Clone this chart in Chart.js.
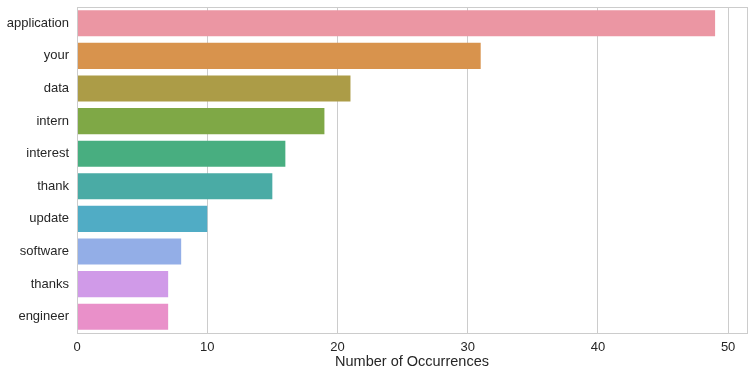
<!DOCTYPE html>
<html>
<head>
<meta charset="utf-8">
<script src="https://cdn.jsdelivr.net/npm/chart.js@4/dist/chart.umd.min.js"></script>
<style>
  html, body { margin: 0; padding: 0; background: #fff; }
  #wrap { width: 753px; height: 377px; position: relative; }
</style>
</head>
<body>
<div id="wrap"><canvas id="chart"></canvas></div>
<script>
"use strict";

// ── Data ─────────────────────────────────────────────
const words  = ["application", "your", "data", "intern", "interest", "thank", "update", "software", "thanks", "engineer"];
const counts = [49, 31, 21, 19, 16, 15, 10, 8, 7, 7];
const colors = ["#eb96a3", "#d8934d", "#ac9c47", "#7fa846", "#48ae80", "#4aaba5", "#50acc5", "#93aee7", "#d09ae8", "#e990c9"];
const xTicks = [0, 10, 20, 30, 40, 50];

const FONT = "'Liberation Sans', Arial, sans-serif";

// frame round the plot area (seaborn whitegrid spines)
const frame = {
  id: "frame",
  afterDraw(chart) {
    const { ctx, chartArea: a } = chart;
    ctx.save();
    ctx.strokeStyle = "#cccccc";
    ctx.lineWidth = 1;
    ctx.strokeRect(a.left + 0.5, a.top + 0.5, a.right - a.left, a.bottom - a.top);
    ctx.restore();
  },
};

new Chart(document.getElementById("chart"), {
  type: "bar",
  data: {
    labels: words,
    datasets: [{
      data: counts,
      backgroundColor: colors,
      borderWidth: 0,
      categoryPercentage: 1,
      barPercentage: 0.8,
    }],
  },
  options: {
    indexAxis: "y",
    responsive: true,
    maintainAspectRatio: false,
    animation: false,
    layout: { padding: { top: 7, right: 6, left: 0, bottom: 0 } },
    plugins: { legend: { display: false }, tooltip: { enabled: false } },
    scales: {
      x: {
        min: 0,
        max: 51.45,
        afterBuildTicks: s => { s.ticks = xTicks.map(v => ({ value: v })); },
        afterFit: s => { s.height = 44; s.paddingLeft = 0; s.paddingRight = 0; },
        grid: { color: "#cccccc", drawTicks: false },
        border: { display: false },
        ticks: { color: "#262626", font: { family: FONT, size: 13 }, padding: 7 },
        title: {
          display: true,
          text: "Number of Occurrences",
          color: "#262626",
          font: { family: FONT, size: 14.5 },
          padding: { top: 2, bottom: 6 },
        },
      },
      y: {
        afterFit: s => { s.width = 77; s.paddingTop = 0; s.paddingBottom = 0; },
        grid: { display: false, drawTicks: false },
        border: { display: false },
        ticks: { color: "#262626", font: { family: FONT, size: 13 }, padding: 8 },
      },
    },
  },
  plugins: [frame],
});
</script>
</body>
</html>
